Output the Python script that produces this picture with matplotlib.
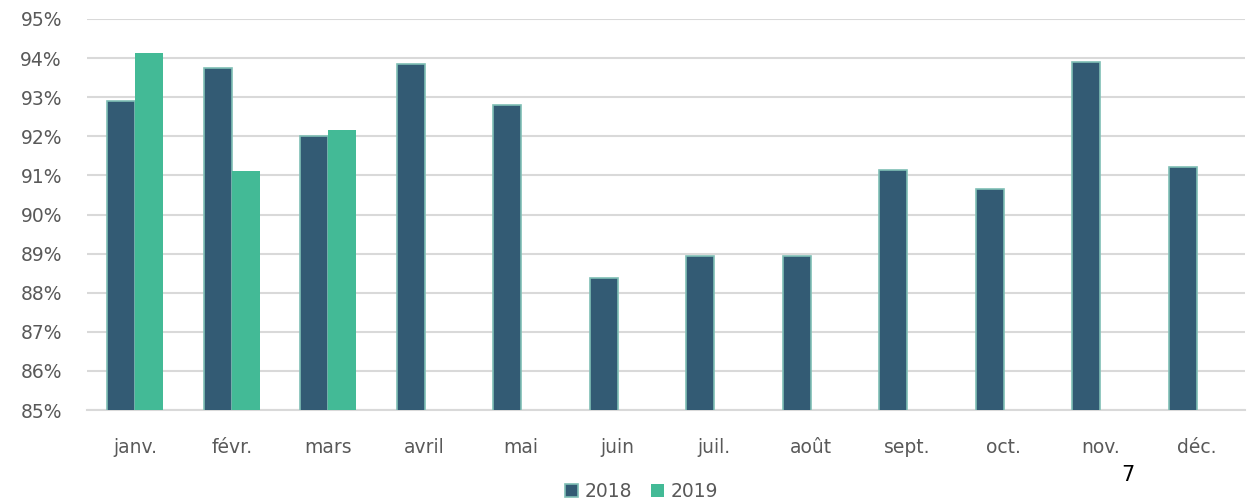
import matplotlib.pyplot as plt
import numpy as np
from matplotlib.ticker import FuncFormatter

months = ["janv.", "févr.", "mars", "avril", "mai", "juin",
          "juil.", "août", "sept.", "oct.", "nov.", "déc."]
vals_2018 = [92.91, 93.75, 92.02, 93.85, 92.81, 88.37,
             88.93, 88.93, 91.13, 90.66, 93.91, 91.22]
vals_2019 = [94.12, 91.12, 92.17]

c2018 = "#335B74"
c2019 = "#43BA96"
txt = "#595959"

plt.rcParams['font.family'] = ['DejaVu Sans']

fig = plt.figure(figsize=(12.53, 5.0), dpi=100)
ax = fig.add_axes([0.0694, 0.18, 0.9242, 0.782])

x = np.arange(len(months))
w = 0.29
ax.bar(x - w / 2, vals_2018, w, color=c2018, edgecolor="#7FBFB5",
       linewidth=1.2, label="2018", zorder=3)
ax.bar(x[:len(vals_2019)] + w / 2, vals_2019, w, color=c2019,
       label="2019", zorder=3)

ax.set_ylim(85, 95)
ax.set_xlim(-0.5, len(months) - 0.5)
ax.set_yticks(np.arange(85, 96, 1))
ax.yaxis.set_major_formatter(FuncFormatter(lambda v, p: f"{v:.0f}%"))
ax.set_xticks(x)
ax.set_xticklabels(months)
ax.grid(axis="y", color="#D9D9D9", linewidth=1.5, zorder=0)
for s in ["top", "right", "left"]:
    ax.spines[s].set_visible(False)
ax.spines["bottom"].set_color("#D9D9D9")
ax.spines["bottom"].set_linewidth(1.5)
ax.tick_params(axis="both", length=0, labelsize=13.5, colors=txt)
ax.tick_params(axis="x", pad=20)
ax.tick_params(axis="y", pad=18)

fig.legend(loc="lower center", bbox_to_anchor=(0.512, -0.035), ncol=2,
           frameon=False, fontsize=13.5, labelcolor=txt, handlelength=0.7,
           handleheight=0.7, handletextpad=0.35, columnspacing=1.0)

fig.text(0.9, 0.05, "7", fontsize=15, color="black",
         family="Liberation Sans Narrow", ha="center", va="center")

fig.savefig("out.png", dpi=100)
